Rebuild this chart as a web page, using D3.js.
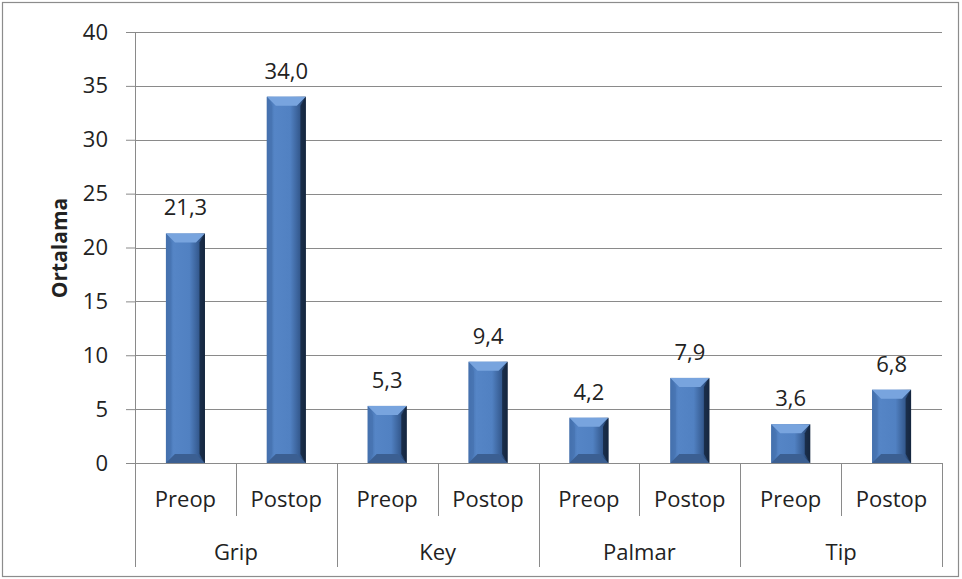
<!DOCTYPE html>
<html>
<head>
<meta charset="utf-8">
<script src="https://cdn.jsdelivr.net/npm/d3@7"></script>
<style>
  body { margin: 0; background: #fff; }
  text { font-family: "Open Sans", "Liberation Sans", sans-serif; fill: #222; }
</style>
</head>
<body>
<svg class="chart" width="962" height="579"></svg>
<script>
// data
let groups = ['Grip', 'Key', 'Palmar', 'Tip'];
let phases = ['Preop', 'Postop'];
let values = [21.3, 34.0, 5.3, 9.4, 4.2, 7.9, 3.6, 6.8];
let yTicks = [0, 5, 10, 15, 20, 25, 30, 35, 40];

let rows = [];
groups.forEach((g, i) => phases.forEach((p, j) => {
  rows.push({ group: g, phase: p, key: g + '-' + p, value: values[i * 2 + j] });
}));

let margin = { top: 32, right: 20, bottom: 116, left: 135 };
let width = 942 - margin.left;
let height = 463 - margin.top;
let fontSize = 22;

let svg = d3.select('.chart');

// outer frame
svg.append('rect')
  .attr('x', 2.5).attr('y', 2.5).attr('width', 956).attr('height', 574)
  .attr('fill', 'none').attr('stroke', '#8c8c8c').attr('stroke-width', 1.2);

let defs = svg.append('defs');
let grad = defs.append('linearGradient').attr('id', 'barFace')
  .attr('x1', '0%').attr('x2', '100%').attr('y1', '0%').attr('y2', '0%');
grad.append('stop').attr('offset', '0%').attr('stop-color', '#3e6aa6');
grad.append('stop').attr('offset', '20%').attr('stop-color', '#5585c6');
grad.append('stop').attr('offset', '60%').attr('stop-color', '#5181c2');
grad.append('stop').attr('offset', '85%').attr('stop-color', '#34598e');
grad.append('stop').attr('offset', '100%').attr('stop-color', '#172a45');

let g = svg.append('g')
  .attr('transform', 'translate(' + margin.left + ',' + margin.top + ')');

let x = d3.scaleBand().domain(rows.map(d => d.key)).range([0, width]);
let xGroup = d3.scaleBand().domain(groups).range([0, width]);
let y = d3.scaleLinear().domain([0, 40]).range([height, 0]);

// gridlines
g.append('g').selectAll('line')
  .data(yTicks.filter(t => t > 0))
  .enter().append('line')
  .attr('x1', 0).attr('x2', width)
  .attr('y1', d => Math.round(y(d)) + 0.5).attr('y2', d => Math.round(y(d)) + 0.5)
  .attr('stroke', '#8a8a8a').attr('stroke-width', 1);

// y axis
let yAxis = g.append('g').attr('class', 'axis y')
  .call(d3.axisLeft(y).tickValues(yTicks).tickSize(9).tickPadding(18).tickFormat(d3.format('d')));
yAxis.select('.domain').attr('stroke', '#8a8a8a');
yAxis.selectAll('line').attr('stroke', '#8a8a8a');
yAxis.selectAll('text').attr('font-size', fontSize).attr('fill', '#222')
  .style('font-family', '"Open Sans", sans-serif');

// axis title
svg.append('text')
  .attr('transform', 'translate(67,248) rotate(-90)')
  .attr('text-anchor', 'middle')
  .attr('font-size', 21).attr('font-weight', 'bold')
  .text('Ortalama');

// x axis line + category separators
g.append('line')
  .attr('x1', 0).attr('x2', width).attr('y1', height + 0.5).attr('y2', height + 0.5)
  .attr('stroke', '#8a8a8a');

let seps = d3.range(0, rows.length + 1);
g.append('g').selectAll('line')
  .data(seps)
  .enter().append('line')
  .attr('x1', i => Math.round(i < rows.length ? x(rows[i].key) : width) + 0.5)
  .attr('x2', i => Math.round(i < rows.length ? x(rows[i].key) : width) + 0.5)
  .attr('y1', height)
  .attr('y2', i => i % 2 === 0 ? height + 104 : height + 53)
  .attr('stroke', '#8a8a8a');

// phase labels
g.append('g').selectAll('text')
  .data(rows)
  .enter().append('text')
  .attr('x', d => x(d.key) + x.bandwidth() / 2)
  .attr('y', height + 44)
  .attr('text-anchor', 'middle')
  .attr('font-size', fontSize)
  .text(d => d.phase);

// group labels
g.append('g').selectAll('text')
  .data(groups)
  .enter().append('text')
  .attr('x', d => xGroup(d) + xGroup.bandwidth() / 2)
  .attr('y', height + 97)
  .attr('text-anchor', 'middle')
  .attr('font-size', fontSize)
  .text(d => d);

// bars with bevel
let barW = 39;
let bars = g.append('g').selectAll('g')
  .data(rows)
  .enter().append('g');

bars.each(function (d) {
  let el = d3.select(this);
  let x0 = x(d.key) + (x.bandwidth() - barW) / 2;
  let x1 = x0 + barW;
  let y0 = y(d.value);
  let y1 = y(0);
  let b = Math.min(9, (y1 - y0) / 2);
  el.append('rect')
    .attr('x', x0).attr('y', y0).attr('width', barW).attr('height', y1 - y0)
    .attr('fill', 'url(#barFace)');
  // top bevel
  el.append('polygon')
    .attr('points', [[x0, y0], [x1, y0], [x1 - b, y0 + b], [x0 + b, y0 + b]].join(' '))
    .attr('fill', '#78a4de');
  // bottom bevel
  el.append('polygon')
    .attr('points', [[x0, y1], [x1, y1], [x1 - b, y1 - b], [x0 + b, y1 - b]].join(' '))
    .attr('fill', '#3b5f92');
  // left bevel
  el.append('polygon')
    .attr('points', [[x0, y0], [x0 + b * 0.6, y0 + b], [x0 + b * 0.6, y1 - b], [x0, y1]].join(' '))
    .attr('fill', '#4774b0').attr('opacity', 0.7);
  // right bevel
  el.append('polygon')
    .attr('points', [[x1, y0], [x1 - b * 0.6, y0 + b], [x1 - b * 0.6, y1 - b], [x1, y1]].join(' '))
    .attr('fill', '#15253d').attr('opacity', 0.8);
});

// value labels
g.append('g').selectAll('text')
  .data(rows)
  .enter().append('text')
  .attr('x', d => x(d.key) + x.bandwidth() / 2)
  .attr('y', d => y(d.value) - 18)
  .attr('text-anchor', 'middle')
  .attr('font-size', fontSize)
  .text(d => d.value.toFixed(1).replace('.', ','));
</script>
</body>
</html>
